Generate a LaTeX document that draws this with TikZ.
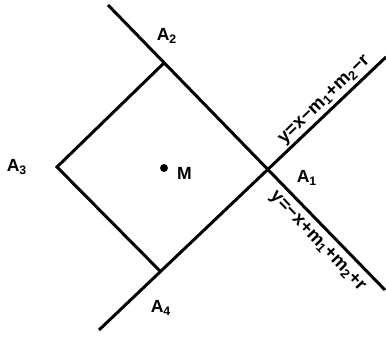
\documentclass[tikz,border=0pt]{standalone}
\usepackage{fontspec}
\setmainfont{Liberation Sans}
\usetikzlibrary{calc,positioning}
\tikzset{
  bdline/.style={draw=black,line width=1.7pt},
  ptlabel/.style={font=\bfseries},
  eqlabel/.style={font=\bfseries\fontsize{10.5}{12}\selectfont,sloped,anchor=center,inner sep=1pt},
}
\newcommand{\plab}[3]{\node[ptlabel] (#1) at (#2) {#3};}
\newcommand{\sub}[1]{\textsubscript{#1}}

\begin{document}
\begin{tikzpicture}[x=0.02cm,y=-0.02cm]
  \useasboundingbox (0,0) rectangle (386,338);
  \coordinate (P1) at (270,169);
  \coordinate (P2) at (164,63);
  \coordinate (P3) at (57,167);
  \coordinate (P4) at (161,272);
  \coordinate (dTop) at (108,5);
  \coordinate (dEnd) at (385,290);
  \coordinate (aBot) at (99,330);
  \coordinate (aEnd) at (386,57);
  \draw[bdline] (dTop) -- (dEnd);
  \draw[bdline] (aBot) -- (aEnd);
  \draw[bdline,line join=miter] (P2) -- (P3) -- (P4);
  \node[circle,fill,inner sep=0pt,minimum size=4.5pt] (M) at (164,168) {};
  \node[ptlabel,right=1.5pt of M,yshift=-3pt] (Mlab) {M};
  \plab{a1}{307,178}{A\sub{1}}
  \plab{a2}{167,36}{A\sub{2}}
  \plab{a3}{17,167}{A\sub{3}}
  \plab{a4}{161,308}{A\sub{4}}
  \path (P1) -- (aEnd) node[eqlabel,pos=0.54,yshift=6.5pt] (eqUp) {y=x−m\sub{1}+m\sub{2}−r};
  \path (P1) -- (dEnd) node[eqlabel,pos=0.51,yshift=-9pt] (eqDn) {y=−x+m\sub{1}+m\sub{2}+r};
\end{tikzpicture}
\end{document}
